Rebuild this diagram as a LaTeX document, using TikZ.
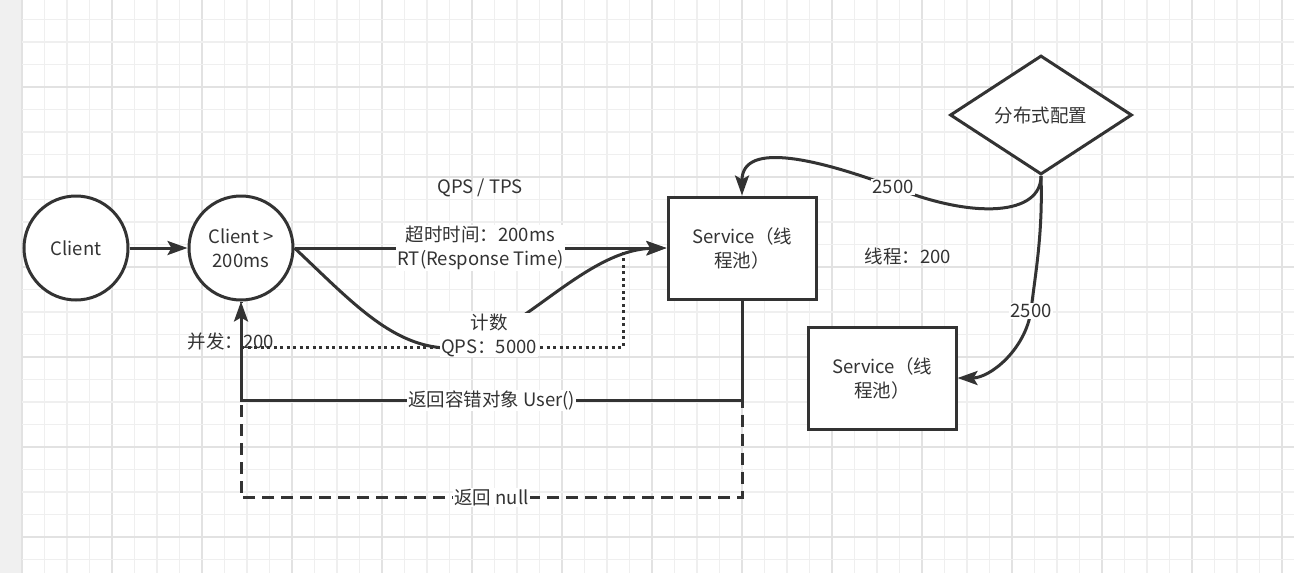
\documentclass[tikz,border=0pt]{standalone}
\usepackage{fontspec}
\setmainfont{Noto Sans CJK SC}
\usetikzlibrary{arrows.meta,shapes.geometric}
\usepackage{xcolor}
\definecolor{ink}{HTML}{333333}
\definecolor{gridminor}{HTML}{EFEFEF}
\definecolor{gridmajor}{HTML}{E2E2E2}
\definecolor{margin}{HTML}{F0F0F0}

\begin{document}
\begin{tikzpicture}[x=1pt, y=-1pt,
		every node/.style={font=\fontsize{18.5}{24}\selectfont, text=ink},
		station/.style={circle, draw=ink, line width=3pt, fill=white,
			minimum size=104pt, inner sep=0pt, align=center},
		svcbox/.style={rectangle, draw=ink, line width=3pt, fill=white,
			minimum width=148pt, minimum height=102pt, align=center},
		cfg/.style={diamond, draw=ink, line width=3pt, fill=white,
			minimum width=182pt, minimum height=119pt, inner sep=0pt},
		conn/.style={draw=ink, line width=3pt,
			-{Stealth[length=20pt,width=14pt,inset=4pt]}},
		dotline/.style={draw=ink, line width=3pt, dash pattern=on 3pt off 3.5pt},
		dashline/.style={draw=ink, line width=3pt, dash pattern=on 12pt off 7pt},
		lbl/.style={fill=white, inner sep=1pt, align=center}]
		\useasboundingbox (0,0) rectangle (1294,573);
		% background grid
		\fill [white] (0,0) rectangle (1294,573);
		\fill [margin] (0,0) rectangle (22,573);
		\foreach \i in {0,...,56} {
			\pgfmathsetmacro{\gx}{22+22.5*\i}
			\pgfmathtruncatemacro{\major}{mod(\i,4)==0}
			\ifnum\major=1
				\draw [gridmajor, line width=1.4pt] (\gx,0) -- (\gx,573);
			\else
				\draw [gridminor, line width=1.2pt] (\gx,0) -- (\gx,573);
			\fi
		}
		\foreach \j in {1,...,25} {
			\pgfmathsetmacro{\gy}{-3+22.5*\j}
			\pgfmathtruncatemacro{\major}{mod(\j,4)==0}
			\ifnum\major=1
				\draw [gridmajor, line width=1.4pt] (22,\gy) -- (1294,\gy);
			\else
				\draw [gridminor, line width=1.2pt] (22,\gy) -- (1294,\gy);
			\fi
		}
		%
		\node [station] (client) at (76,248) {Client};
		\node [station] (gate) at (241,248) {Client >\\200ms};
		\node [svcbox] (svcA) at (742,248) {Service（线\\程池）};
		\node [svcbox] (svcB) at (882,378) {Service（线\\程池）};
		\node [cfg] (conf) at (1041,115) {分布式配置};
		\coordinate (dotA) at (241,347);
		\coordinate (dotB) at (623,250);
		%
		\node (qps) at (480,188) {QPS / TPS};
		\node (threads) at (908,256) {线程：200};
		%
		\draw [dashline] (svcA.south) -- ++(0,197) -| (gate.south)
			node [lbl, pos=0.25] {返回 null};
		\draw [conn] (svcA.south) -- ++(0,100) -| (gate.south)
			node [lbl, pos=0.25] {返回容错对象 User()};
		\draw [dotline] (dotA) -- (dotB |- dotA) -- (dotB);
		\node (conc) at (231,341) {并发：200};
		%
		\draw [conn] (client) -- (gate);
		\draw [conn] (gate.east) -- (svcA.west)
			node [lbl, midway] {超时时间：200ms\\RT(Response Time)};
		\draw [conn] (gate.east) .. controls (350,300) and (390,345) .. (445,348)
			.. controls (510,350) and (580,250) .. (svcA.west);
		\node [lbl] (count) at (489,335) {计数\\QPS：5000};
		%
		\draw [conn] (conf.south) .. controls (1041,215) and (975,220) .. (893,187)
			node [lbl] {2500}
			.. controls (820,160) and (742,140) .. (svcA.north);
		\draw [conn] (conf.south) .. controls (1043,235) and (1035,275) .. (1031,311)
			node [lbl] {2500}
			.. controls (1025,350) and (990,378) .. (svcB.east);
	\end{tikzpicture}
\end{document}
